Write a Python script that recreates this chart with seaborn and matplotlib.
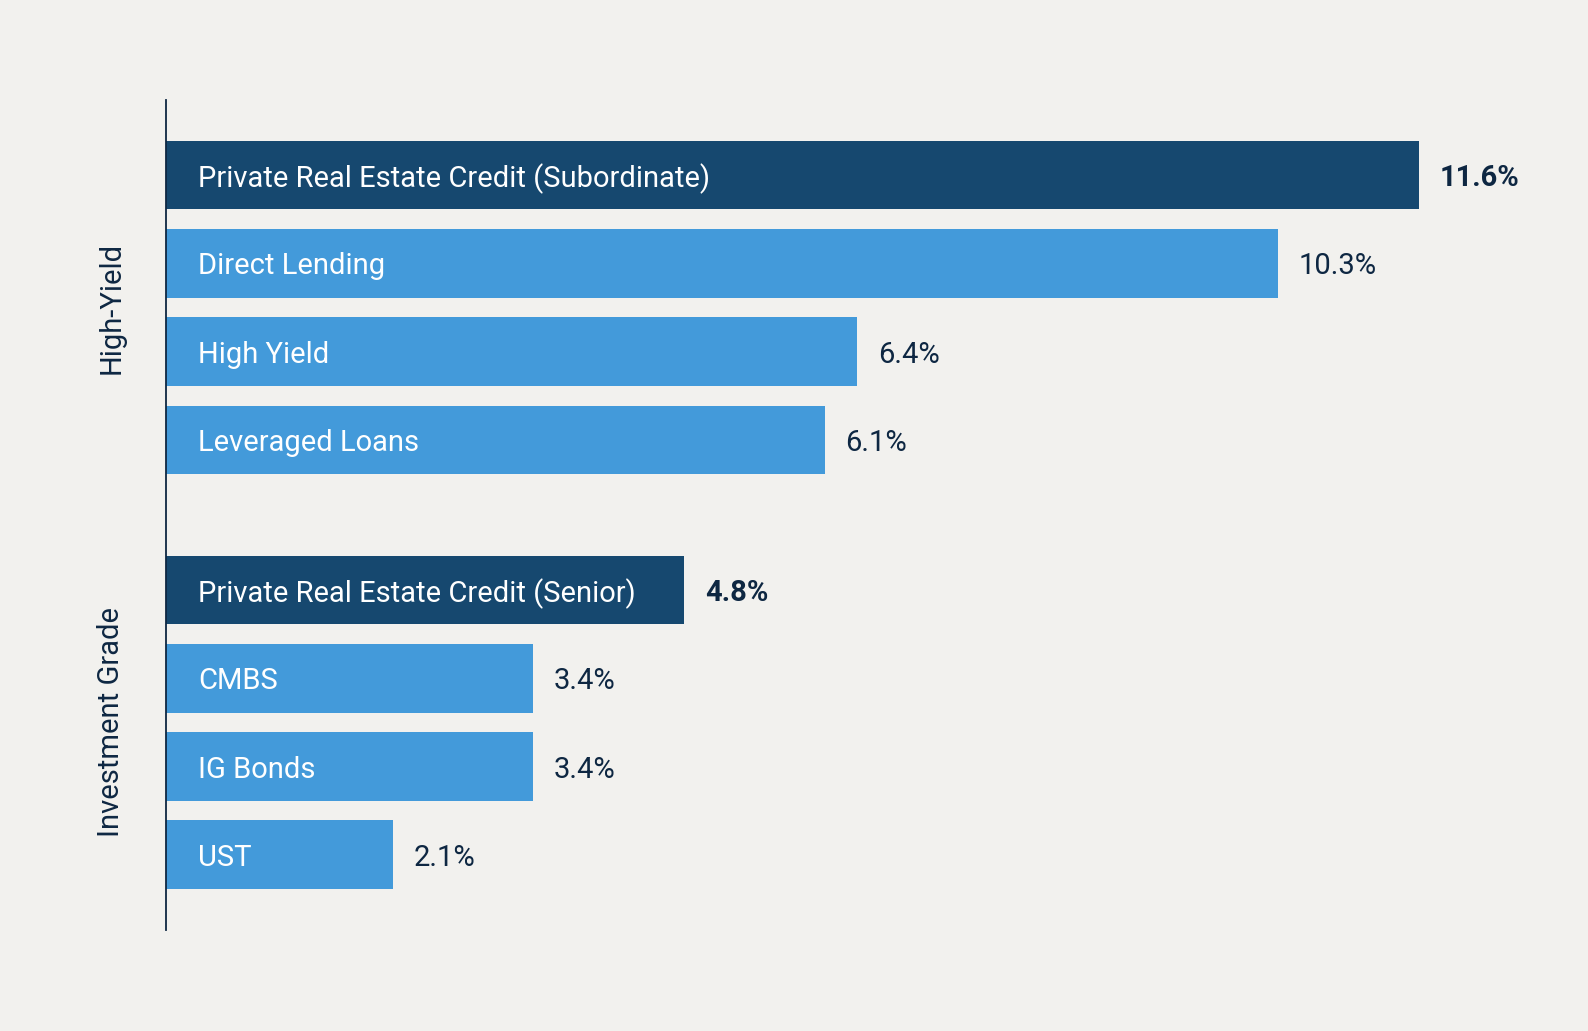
import numpy as np
import pandas as pd
import seaborn as sns
from matplotlib import pyplot as plt
from matplotlib import transforms

# data
labels = ['Private Real Estate Credit (Subordinate)', 'Direct Lending', 'High Yield', 'Leveraged Loans',
          'Private Real Estate Credit (Senior)', 'CMBS', 'IG Bonds', 'UST']
values = [11.6, 10.3, 6.4, 6.1, 4.8, 3.4, 3.4, 2.1]
groups = ['High-Yield'] * 4 + ['Investment Grade'] * 4
highlight = [True, False, False, False, True, False, False, False]

# colours
bg = '#F2F1EE'
dark = '#16486F'
light = '#439ADA'
ink = '#0E2742'

sns.set_theme(style='white')
plt.rcParams['font.family'] = ['Roboto', 'DejaVu Sans']

# row positions, with an extra gap between the two groups
pos = []
p = 0.0
for i, g in enumerate(groups):
    if i > 0 and g != groups[i - 1]:
        p += 0.70
    pos.append(p)
    p += 1.0

df = pd.DataFrame({'label': labels, 'value': values, 'group': groups,
                   'tier': ['core' if h else 'other' for h in highlight], 'pos': pos})

fig = plt.figure(figsize=(15.88, 10.31), dpi=100, facecolor=bg)
ax = fig.add_axes([0.1045, 0.098, 0.884, 0.805])
ax.set_facecolor(bg)

sns.barplot(data=df, x='value', y='pos', hue='tier', palette={'core': dark, 'other': light},
            orient='h', native_scale=True, width=0.78, dodge=False, legend=False,
            saturation=1, linewidth=0, ax=ax)

ax.set_xlim(0, 13)
ax.set_ylim(df['pos'].max() + 0.85, -0.85)
ax.set_xlabel('')
ax.set_ylabel('')
ax.set_xticks([])
ax.set_yticks([])
for s in ['top', 'right', 'bottom']:
    ax.spines[s].set_visible(False)
ax.spines['left'].set_color(ink)
ax.spines['left'].set_linewidth(1.3)

fs = 21
for _, r in df.iterrows():
    core = r['tier'] == 'core'
    ax.annotate(r['label'], xy=(0, r['pos']), xytext=(23, 0), textcoords='offset points',
                va='center_baseline', ha='left', color='white', fontsize=fs)
    ax.annotate(f"{r['value']:.1f}%", xy=(r['value'], r['pos']), xytext=(15, 0),
                textcoords='offset points', va='center_baseline', ha='left', color=ink, fontsize=fs,
                fontweight='bold' if core else 'normal')

# group labels on the left
trans = transforms.blended_transform_factory(ax.transAxes, ax.transData)
for g in dict.fromkeys(groups):
    mid = df.loc[df['group'] == g, 'pos'].mean()
    ax.text(-0.039, mid, g, transform=trans, rotation=90, va='center', ha='center',
            color=ink, fontsize=fs)

fig.savefig('out.png', dpi=100, facecolor=bg)
